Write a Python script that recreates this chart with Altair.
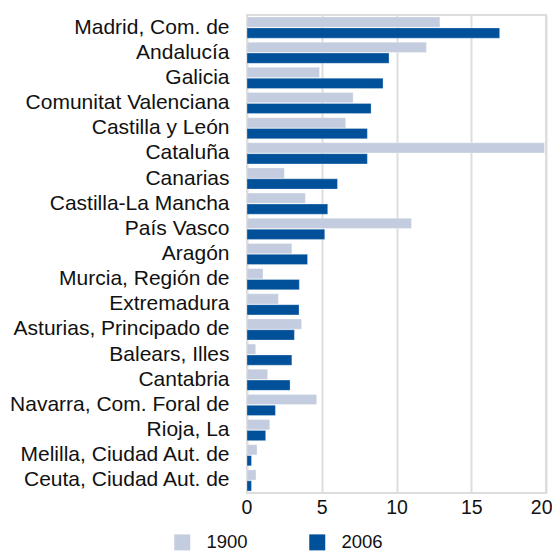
import altair as alt
import pandas as pd

regions = ["Madrid, Com. de", "Andalucía", "Galicia", "Comunitat Valenciana",
           "Castilla y León", "Cataluña", "Canarias", "Castilla-La Mancha",
           "País Vasco", "Aragón", "Murcia, Región de", "Extremadura",
           "Asturias, Principado de", "Balears, Illes", "Cantabria",
           "Navarra, Com. Foral de", "Rioja, La", "Melilla, Ciudad Aut. de",
           "Ceuta, Ciudad Aut. de"]
v1900 = [12.9, 12.0, 4.85, 7.1, 6.6, 19.9, 2.5, 3.9, 11.0, 3.0, 1.07, 2.1,
         3.65, 0.58, 1.38, 4.66, 1.52, 0.67, 0.6]
v2006 = [16.9, 9.5, 9.1, 8.3, 8.05, 8.05, 6.05, 5.4, 5.2, 4.05, 3.5, 3.48,
         3.17, 3.0, 2.88, 1.9, 1.25, 0.3, 0.3]
years = ["1900", "2006"]
colors = ["#C4CCDF", "#00509A"]
x_ticks = [0, 5, 10, 15, 20]

rows = []
for r, a, b in zip(regions, v1900, v2006):
    rows.append({"region": r, "year": years[0], "value": a})
    rows.append({"region": r, "year": years[1], "value": b})
df = pd.DataFrame(rows)

font = "Liberation Sans"

chart = alt.Chart(df).mark_bar(stroke="#ffffff", strokeWidth=0.6, strokeOpacity=0.5).encode(
    y=alt.Y("region:N", sort=regions, title=None,
            scale=alt.Scale(paddingInner=0.16, paddingOuter=0.08),
            axis=alt.Axis(ticks=False, domain=False, labelFontSize=21, labelFont=font,
                          labelColor="#111111", labelPadding=18, labelLimit=300,
                          minExtent=239, maxExtent=239)),
    yOffset=alt.YOffset("year:N", sort=years, scale=alt.Scale(paddingInner=0.06)),
    x=alt.X("value:Q", title=None,
            scale=alt.Scale(domain=[0, 20], nice=False),
            axis=alt.Axis(values=x_ticks, ticks=False, domain=False, labelFontSize=19.5,
                          labelFont=font, labelColor="#111111", labelPadding=5,
                          labelFlush=True, labelFlushOffset=6, labelOverlap=False,
                          grid=True, gridColor="#DDDDDD", gridWidth=2)),
    color=alt.Color("year:N", sort=years,
                    scale=alt.Scale(domain=years, range=colors),
                    legend=alt.Legend(title=None, orient="none", legendX=-74, legendY=518,
                                      direction="horizontal", symbolType="square",
                                      symbolSize=256, symbolStrokeWidth=0,
                                      labelFontSize=18.5, labelFont=font, labelColor="#111111",
                                      labelOffset=15, columnPadding=60)),
).properties(
    width=299, height=478,
    padding={"left": 0, "top": 7, "right": 0, "bottom": 2},
).configure_view(stroke="#DDDDDD", strokeWidth=2)

chart.save("out.html", embed_options={"renderer": "svg", "actions": False})
